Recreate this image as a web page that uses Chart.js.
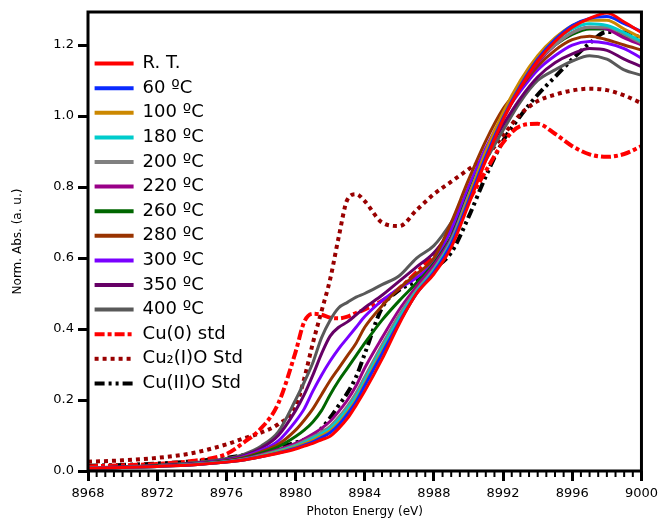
<!DOCTYPE html>
<html>
<head>
<meta charset="utf-8">
<script src="https://cdn.jsdelivr.net/npm/chart.js@4"></script>
<style>
  html, body { margin: 0; padding: 0; background: #fff; }
  #wrap { width: 663px; height: 521px; }
</style>
</head>
<body>
<div id="wrap"><canvas id="xanes" width="663" height="521"></canvas></div>
<script>
// photon energy grid (eV)
const energy = [8968, 8970, 8972, 8974, 8976, 8977, 8978, 8979, 8980, 8980.5, 8981, 8981.5, 8982, 8982.5, 8983, 8983.5, 8984,
  8985, 8986, 8987, 8988, 8989, 8990, 8991, 8992, 8993, 8994, 8995, 8996, 8997, 8998, 8999, 9000];

const seriesNames = ['R. T.', '60 ºC', '100 ºC', '180 ºC', '200 ºC', '220 ºC', '260 ºC', '280 ºC', '300 ºC', '350 ºC', '400 ºC',
  'Cu(0) std', 'Cu₂(I)O Std', 'Cu(II)O Std'];

// normalised absorbance, one list per spectrum
const rt    = [0.008,0.010,0.013,0.017,0.025,0.031,0.040,0.050,0.062,0.070,0.078,0.088,0.098,0.120,0.148,0.185,0.225,0.315,0.415,0.50,0.555,0.63,0.75,0.875,0.99,1.08,1.155,1.21,1.25,1.275,1.29,1.265,1.235];
const t60   = [0.008,0.010,0.013,0.017,0.025,0.031,0.040,0.051,0.064,0.073,0.082,0.094,0.108,0.130,0.160,0.195,0.240,0.330,0.420,0.50,0.560,0.64,0.76,0.885,0.995,1.085,1.16,1.215,1.255,1.275,1.28,1.26,1.238];
const t100  = [0.008,0.010,0.013,0.017,0.025,0.031,0.041,0.053,0.067,0.076,0.086,0.099,0.113,0.135,0.165,0.200,0.245,0.335,0.420,0.50,0.560,0.64,0.77,0.90,1.01,1.10,1.17,1.22,1.255,1.27,1.27,1.245,1.22];
const t180  = [0.008,0.010,0.013,0.018,0.026,0.032,0.042,0.055,0.070,0.080,0.092,0.105,0.120,0.145,0.175,0.210,0.255,0.345,0.430,0.505,0.565,0.645,0.77,0.90,1.00,1.09,1.16,1.21,1.245,1.26,1.255,1.235,1.21];
const t200  = [0.008,0.010,0.013,0.018,0.026,0.033,0.044,0.057,0.073,0.084,0.096,0.110,0.126,0.152,0.183,0.220,0.265,0.355,0.440,0.51,0.570,0.65,0.775,0.895,0.995,1.085,1.155,1.20,1.235,1.25,1.25,1.23,1.205];
const t220  = [0.008,0.010,0.013,0.018,0.027,0.034,0.046,0.060,0.078,0.090,0.104,0.120,0.140,0.168,0.200,0.240,0.290,0.375,0.455,0.52,0.580,0.655,0.775,0.89,0.99,1.08,1.15,1.20,1.235,1.25,1.245,1.22,1.20];
const t260  = [0.008,0.010,0.014,0.019,0.028,0.036,0.050,0.068,0.097,0.115,0.138,0.170,0.215,0.255,0.290,0.325,0.360,0.425,0.480,0.53,0.585,0.66,0.78,0.895,0.995,1.085,1.155,1.20,1.23,1.245,1.245,1.225,1.205];
const t280  = [0.008,0.010,0.014,0.019,0.029,0.038,0.054,0.075,0.115,0.143,0.175,0.215,0.255,0.290,0.325,0.360,0.405,0.465,0.515,0.555,0.60,0.70,0.82,0.93,1.02,1.08,1.14,1.185,1.215,1.225,1.215,1.20,1.186];
const t300  = [0.008,0.010,0.014,0.020,0.030,0.040,0.058,0.085,0.140,0.175,0.225,0.270,0.310,0.345,0.375,0.405,0.435,0.480,0.515,0.545,0.59,0.68,0.80,0.91,1.00,1.07,1.13,1.17,1.20,1.21,1.205,1.19,1.163];
const t350  = [0.008,0.011,0.015,0.021,0.032,0.043,0.064,0.100,0.170,0.215,0.270,0.330,0.380,0.405,0.420,0.440,0.460,0.495,0.535,0.575,0.615,0.68,0.79,0.89,0.975,1.05,1.11,1.15,1.175,1.19,1.185,1.16,1.139];
const t400  = [0.009,0.012,0.016,0.023,0.035,0.047,0.070,0.110,0.200,0.250,0.305,0.375,0.425,0.460,0.475,0.490,0.500,0.525,0.550,0.60,0.635,0.70,0.785,0.875,0.96,1.04,1.10,1.13,1.155,1.17,1.16,1.13,1.115];
const cu0   = [0.013,0.016,0.020,0.028,0.048,0.080,0.120,0.190,0.335,0.420,0.443,0.440,0.432,0.430,0.435,0.445,0.455,0.480,0.515,0.56,0.61,0.68,0.76,0.845,0.925,0.972,0.978,0.95,0.915,0.892,0.885,0.893,0.915];
const cu2o  = [0.026,0.030,0.037,0.050,0.075,0.092,0.108,0.132,0.180,0.260,0.360,0.450,0.540,0.660,0.765,0.780,0.760,0.700,0.690,0.735,0.78,0.815,0.85,0.885,0.945,1.005,1.042,1.06,1.072,1.077,1.073,1.058,1.036];
const cuo   = [0.015,0.017,0.021,0.027,0.037,0.045,0.055,0.067,0.080,0.088,0.098,0.120,0.150,0.185,0.220,0.265,0.330,0.460,0.510,0.535,0.57,0.615,0.715,0.83,0.93,1.00,1.06,1.11,1.16,1.205,1.237,1.235,1.22];

const seriesValues = [rt, t60, t100, t180, t200, t220, t260, t280, t300, t350, t400, cu0, cu2o, cuo];
const seriesColors = ['#ff0000', '#0a2aff', '#cc8800', '#00cccc', '#808080', '#990088', '#006600', '#993300', '#7a00ff', '#660066', '#595959',
  '#ff0000', '#990000', '#000000'];
const seriesDash = [[], [], [], [], [], [], [], [], [], [], [], [10, 3, 4, 3], [4, 4], [10, 4, 3, 4, 3, 4]];

const xTicks = [8968, 8972, 8976, 8980, 8984, 8988, 8992, 8996, 9000];
const yTicks = [0.0, 0.2, 0.4, 0.6, 0.8, 1.0, 1.2];

const datasets = seriesNames.map((name, i) => ({
  label: name,
  data: energy.map((e, j) => ({x: e, y: seriesValues[i][j]})),
  borderColor: seriesColors[i],
  backgroundColor: seriesColors[i],
  borderWidth: i > 10 ? 4 : 3,
  borderDash: seriesDash[i],
  borderCapStyle: 'butt',
  pointRadius: 0,
  cubicInterpolationMode: 'monotone',
  fill: false
}));

// closed black frame + short minor ticks on the energy axis
const framePlugin = {
  id: 'frame',
  afterDatasetsDraw(chart) {
    const {ctx, chartArea: a, scales} = chart;
    ctx.save();
    ctx.strokeStyle = '#000';
    ctx.lineWidth = 3;
    ctx.setLineDash([]);
    ctx.strokeRect(a.left, a.top, a.right - a.left, a.bottom - a.top);
    ctx.lineWidth = 2;
    scales.x.ticks.forEach(t => {
      if (xTicks.includes(t.value)) return;
      const px = scales.x.getPixelForValue(t.value);
      ctx.beginPath();
      ctx.moveTo(px, a.bottom);
      ctx.lineTo(px, a.bottom + 6);
      ctx.stroke();
    });
    ctx.restore();
  }
};

Chart.defaults.font.family = '"DejaVu Sans", Verdana, sans-serif';
Chart.defaults.color = '#000';

new Chart(document.getElementById('xanes'), {
  type: 'line',
  data: {datasets: datasets},
  plugins: [framePlugin],
  options: {
    responsive: false,
    animation: false,
    layout: {padding: {left: 0, top: 12, right: 17, bottom: 0}},
    plugins: {
      tooltip: {enabled: false},
      legend: {
        position: 'chartArea',
        align: 'start',
        title: {display: true, text: ' ', font: {size: 10}, padding: {top: 36, bottom: 0}},
        labels: {
          usePointStyle: true,
          pointStyle: 'line',
          pointStyleWidth: 39,
          padding: 6.6,
          color: '#000',
          font: {size: 18},
          generateLabels: chart => Chart.defaults.plugins.legend.labels.generateLabels(chart).map(item => {
            item.lineDash = seriesDash[item.datasetIndex];
            item.lineWidth = 4;
            item.lineCap = 'butt';
            return item;
          })
        }
      }
    },
    scales: {
      x: {
        type: 'linear',
        min: 8968,
        max: 9000,
        border: {display: false},
        grid: {
          drawOnChartArea: false,
          tickLength: 10,
          tickWidth: 3,
          tickColor: c => (c.tick && xTicks.includes(c.tick.value)) ? '#000' : 'rgba(0,0,0,0)'
        },
        ticks: {
          stepSize: 0.5,
          autoSkip: false,
          maxRotation: 0,
          padding: 5,
          font: {size: 13},
          callback: v => xTicks.includes(v) ? String(v) : ''
        },
        title: {display: true, text: 'Photon Energy (eV)', font: {size: 12}, padding: {top: 2, bottom: 2}},
        afterFit: s => { s.height = 50; }
      },
      y: {
        min: 0,
        max: 1.293,
        border: {display: false},
        grid: {drawOnChartArea: false, tickLength: 10, tickWidth: 3, tickColor: '#000'},
        ticks: {
          stepSize: 0.2,
          includeBounds: false,
          padding: 4,
          font: {size: 13},
          callback: v => yTicks.some(t => Math.abs(t - v) < 1e-6) ? v.toFixed(1) : ''
        },
        title: {display: true, text: 'Norm. Abs. (a. u.)', font: {size: 12}, padding: {top: 11, bottom: 2}},
        afterFit: s => { s.width = 88; }
      }
    }
  }
});
</script>
</body>
</html>
